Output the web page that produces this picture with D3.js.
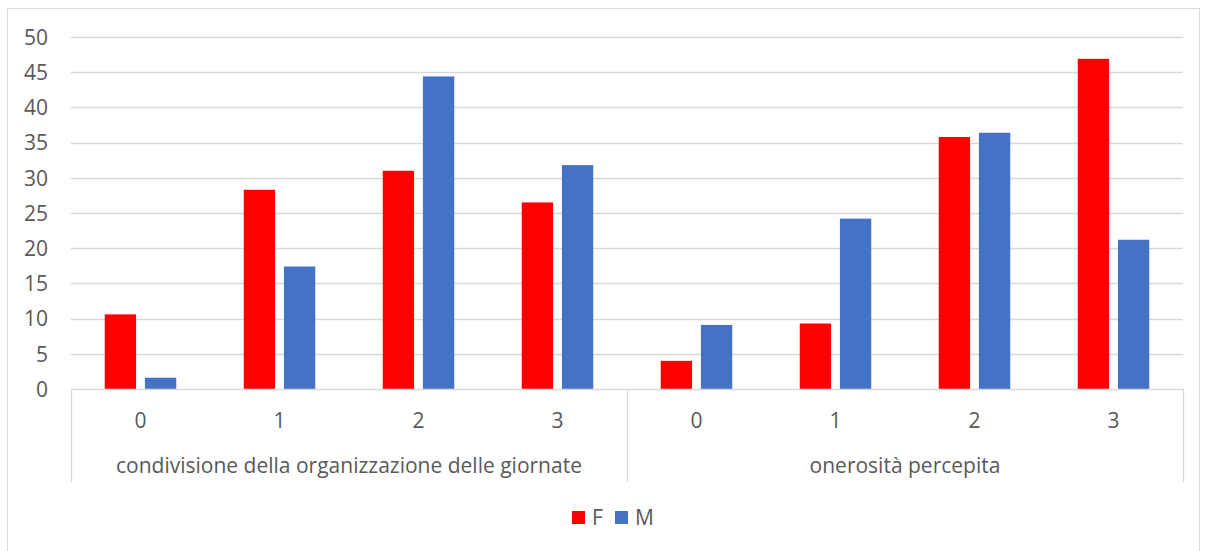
<!DOCTYPE html>
<html><head><meta charset="utf-8">
<script src="https://cdn.jsdelivr.net/npm/d3@7"></script>
<style>body{margin:0;background:#fff;} svg{display:block;} text{font-family:"Open Sans","Liberation Sans",sans-serif;fill:#595959;}</style>
</head><body><svg id="c" width="1205" height="551"></svg>
<script>
const groups = ["condivisione della organizzazione delle giornate", "onerosità percepita"];
const levels = ["0", "1", "2", "3"];
const seriesNames = ["F", "M"];
const valuesF = [10.6, 28.3, 31.0, 26.5, 4.0, 9.3, 35.8, 46.9];
const valuesM = [1.6, 17.4, 44.4, 31.8, 9.1, 24.2, 36.4, 21.2];
const yTicks = [0, 5, 10, 15, 20, 25, 30, 35, 40, 45, 50];
const colors = ["#FF0000", "#4472C4"];
const FS = "21px";

const svg = d3.select("#c");
svg.append("rect").attr("x", 7.5).attr("y", 8.5).attr("width", 1192).attr("height", 560)
  .attr("fill", "#fff").attr("stroke", "#d9d9d9");

const pLeft = 71, pRight = 1183, pTop = 37, pBottom = 389;
const cats = [];
groups.forEach((g, gi) => levels.forEach((l, li) => cats.push({g, gi, l, key: gi + "-" + l, i: gi * 4 + li})));

const x = d3.scaleBand().domain(cats.map(d => d.key)).range([pLeft, pRight]);
const xs = d3.scaleBand().domain(seriesNames).range([0, x.bandwidth()]).paddingInner(0.22).paddingOuter(0.84);
const y = d3.scaleLinear().domain([0, 50]).range([pBottom, pTop]);

// gridlines
svg.append("g").selectAll("line").data(yTicks.filter(t => t > 0)).join("line")
  .attr("x1", pLeft).attr("x2", pRight).attr("y1", d => Math.round(y(d)) + 0.5).attr("y2", d => Math.round(y(d)) + 0.5)
  .attr("stroke", "#d9d9d9").attr("stroke-width", 1.3);

// y axis labels
const yAxis = d3.axisLeft(y).tickValues(yTicks).tickSize(0).tickPadding(20);
const ya = svg.append("g").attr("transform", `translate(${pLeft},0)`).call(yAxis);
ya.select(".domain").remove();
ya.attr("font-family", null).attr("font-size", null);
ya.selectAll("text").style("font-size", FS).attr("fill", "#595959").attr("dy", "0.35em").attr("x", -23);

// bars
const data = [];
cats.forEach(c => {
  data.push({c, s: "F", v: valuesF[c.i], col: colors[0]});
  data.push({c, s: "M", v: valuesM[c.i], col: colors[1]});
});
svg.append("g").selectAll("rect").data(data).join("rect")
  .attr("x", d => x(d.c.key) + xs(d.s))
  .attr("width", xs.bandwidth())
  .attr("y", d => y(d.v))
  .attr("height", d => y(0) - y(d.v))
  .attr("fill", d => d.col);

// x axis line
svg.append("line").attr("x1", pLeft).attr("x2", pRight).attr("y1", pBottom + 0.5).attr("y2", pBottom + 0.5)
  .attr("stroke", "#d9d9d9").attr("stroke-width", 1.3);
// group separators
const gEdges = [pLeft, x(cats[4].key), pRight];
svg.append("g").selectAll("line").data(gEdges).join("line")
  .attr("x1", d => Math.round(d) + 0.5).attr("x2", d => Math.round(d) + 0.5)
  .attr("y1", pBottom).attr("y2", 482)
  .attr("stroke", "#d9d9d9").attr("stroke-width", 1.3);

// level labels
svg.append("g").selectAll("text").data(cats).join("text")
  .attr("x", d => x(d.key) + x.bandwidth() / 2).attr("y", 421)
  .attr("text-anchor", "middle").attr("dy", "0.35em").style("font-size", FS).text(d => d.l);
// group labels
svg.append("g").selectAll("text").data(groups).join("text")
  .attr("x", (d, i) => (gEdges[i] + gEdges[i + 1]) / 2).attr("y", 466)
  .attr("text-anchor", "middle").attr("dy", "0.35em").style("font-size", FS).text(d => d);

// legend
const leg = svg.append("g").selectAll("g").data(seriesNames).join("g")
  .attr("transform", (d, i) => `translate(${572 + i * 43},511)`);
leg.append("rect").attr("width", 13).attr("height", 13).attr("fill", (d, i) => colors[i]);
leg.append("text").attr("x", 20).attr("y", 7).attr("dy", "0.35em").style("font-size", FS).text(d => d);
</script></body></html>
